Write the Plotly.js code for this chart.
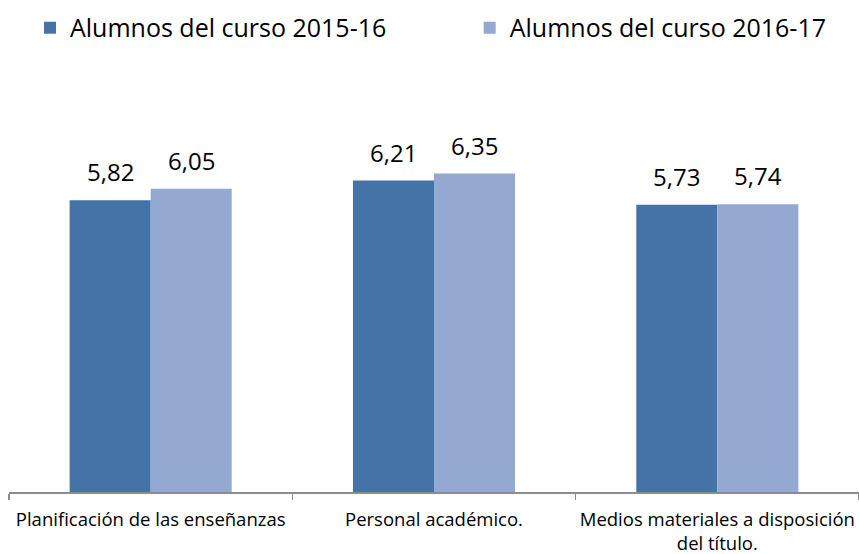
<!DOCTYPE html>
<html><head><meta charset="utf-8">
<script src="https://cdn.plot.ly/plotly-3.0.1.min.js"></script>
<style>html,body{margin:0;padding:0;background:#fff}</style>
</head><body>
<div id="chart" style="width:859px;height:554px"></div>
<script>
const categories = ["Planificación de las enseñanzas", "Personal académico.", "Medios materiales a disposición<br>del título."];
const seriesNames = ["Alumnos del curso 2015-16", "Alumnos del curso 2016-17"];
const values2015 = [5.82, 6.21, 5.73];
const values2016 = [6.05, 6.35, 5.74];
const colors = ["#4573A7", "#94A9D1"];

const FONT = "'Open Sans', Lato, sans-serif";
const traces = [
  {type: "bar", name: seriesNames[0], x: categories, y: values2015, marker: {color: colors[0]}, hoverinfo: "none", legend: "legend"},
  {type: "bar", name: seriesNames[1], x: categories, y: values2016, marker: {color: colors[1]}, hoverinfo: "none", legend: "legend2"}
];

const annotations = [];
[values2015, values2016].forEach((vals, s) => {
  vals.forEach((v, i) => {
    annotations.push({
      x: categories[i], y: v, xref: "x", yref: "y",
      text: v.toFixed(2).replace(".", ","),
      showarrow: false, yanchor: "bottom",
      xshift: s === 0 ? -40.5 : 40.5, yshift: 10,
      font: {family: FONT, size: 24, color: "#000"}
    });
  });
});

const legendBase = {orientation: "h", yanchor: "middle", y: 1.322, xanchor: "left",
  font: {family: FONT, size: 25, color: "#000"}, itemclick: false, itemdoubleclick: false, bgcolor: "rgba(0,0,0,0)"};

const layout = {
  width: 859, height: 554,
  margin: {l: 9, r: 0, t: 141, b: 62},
  paper_bgcolor: "#fff", plot_bgcolor: "#fff",
  barmode: "group", bargap: 0.428, bargroupgap: 0,
  font: {family: FONT, color: "#000"},
  showlegend: true,
  legend: Object.assign({}, legendBase, {x: 0.0247}),
  legend2: Object.assign({}, legendBase, {x: 0.542}),
  xaxis: {type: "category", range: [-0.5, 2.5], showline: true, linecolor: "#8C8C8C", linewidth: 1.5,
          ticks: "outside", tickson: "boundaries", ticklen: 6, tickcolor: "#8C8C8C", tickwidth: 1.5, tickangle: 0,
          showgrid: false, zeroline: false, tickfont: {family: FONT, size: 18.5, color: "#000"}, ticklabelstandoff: 10},
  yaxis: {range: [0, 7], visible: false, showgrid: false, zeroline: false},
  annotations: annotations
};
Plotly.newPlot("chart", traces, layout, {displayModeBar: false, staticPlot: true});
</script>
</body></html>
